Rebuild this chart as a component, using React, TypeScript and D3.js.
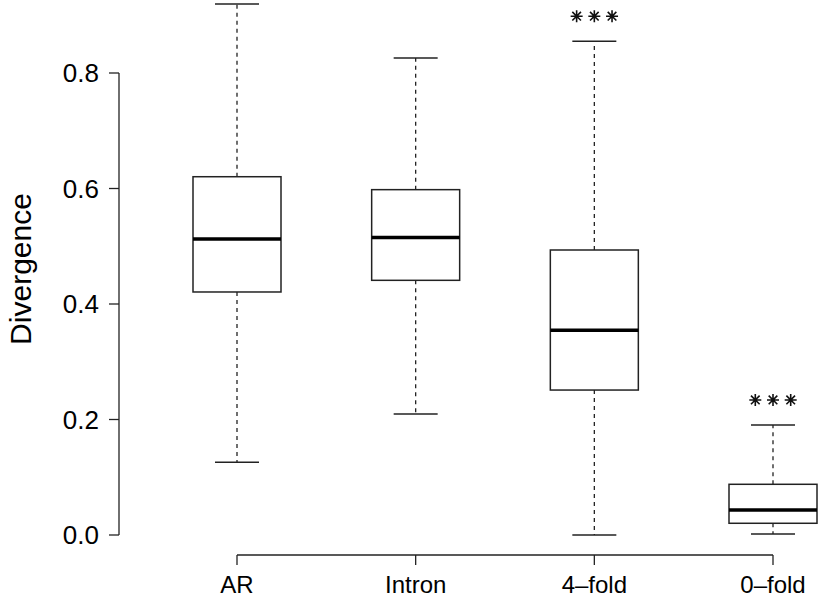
import React, { useEffect, useRef } from 'react';
import * as d3 from 'd3';

const categories = ['AR', 'Intron', '4–fold', '0–fold'];
const lowerWhisker = [0.126, 0.2095, 0.0, 0.0017];
const lowerQuartile = [0.4208, 0.441, 0.251, 0.0203];
const medians = [0.5126, 0.515, 0.3544, 0.0433];
const upperQuartile = [0.6204, 0.598, 0.4935, 0.0878];
const upperWhisker = [0.9195, 0.826, 0.855, 0.1905];
const significance = ['', '', '***', '***'];
const yTicks = [0.0, 0.2, 0.4, 0.6, 0.8];

const App = () => {
  const ref = useRef<SVGSVGElement>(null);

  useEffect(() => {
    const width = 820;
    const height = 600;
    const font = '"Liberation Sans", Arial, Helvetica, sans-serif';

    const svg = d3.select(ref.current).attr('width', width).attr('height', height);
    svg.selectAll('*').remove();

    const y = d3.scaleLinear().domain([0, 0.8]).range([535, 73]);
    const x = d3.scalePoint<string>().domain(categories).range([237, 773]);
    const boxW = 88;
    const capW = 44;

    // y axis
    const gy = svg.append('g').attr('transform', 'translate(119,0)');
    gy.append('line').attr('y1', y(0)).attr('y2', y(0.8)).attr('stroke', '#222').attr('stroke-width', 1.3);
    gy.selectAll('.tick')
      .data(yTicks)
      .enter()
      .append('line')
      .attr('x1', -10)
      .attr('x2', 0)
      .attr('y1', (d) => y(d))
      .attr('y2', (d) => y(d))
      .attr('stroke', '#222')
      .attr('stroke-width', 1.3);
    gy.selectAll('text')
      .data(yTicks)
      .enter()
      .append('text')
      .attr('x', -20)
      .attr('y', (d) => y(d))
      .attr('dy', '0.36em')
      .attr('text-anchor', 'end')
      .style('font-family', font)
      .style('font-size', '26px')
      .text((d) => d3.format('.1f')(d));

    svg.append('text')
      .attr('transform', 'translate(31,269) rotate(-90)')
      .attr('text-anchor', 'middle')
      .style('font-family', font)
      .style('font-size', '30px')
      .text('Divergence');

    // x axis
    const gx = svg.append('g').attr('transform', 'translate(0,555)');
    gx.append('line')
      .attr('x1', x(categories[0])!)
      .attr('x2', x(categories[categories.length - 1])!)
      .attr('stroke', '#222')
      .attr('stroke-width', 1.3);
    gx.selectAll('.tick')
      .data(categories)
      .enter()
      .append('line')
      .attr('x1', (d) => x(d)!)
      .attr('x2', (d) => x(d)!)
      .attr('y1', 0)
      .attr('y2', 10)
      .attr('stroke', '#222')
      .attr('stroke-width', 1.3);
    gx.selectAll('text')
      .data(categories)
      .enter()
      .append('text')
      .attr('x', (d) => x(d)!)
      .attr('y', 38)
      .attr('text-anchor', 'middle')
      .style('font-family', font)
      .style('font-size', '24px')
      .text((d) => d);

    // boxes
    const boxes = svg.selectAll('.box')
      .data(categories)
      .enter()
      .append('g')
      .attr('transform', (d) => `translate(${x(d)},0)`);

    boxes.append('line')
      .attr('y1', (d, i) => y(upperQuartile[i]))
      .attr('y2', (d, i) => y(upperWhisker[i]))
      .attr('stroke', '#222')
      .attr('stroke-width', 1.3)
      .attr('stroke-dasharray', '4,4');
    boxes.append('line')
      .attr('y1', (d, i) => y(lowerQuartile[i]))
      .attr('y2', (d, i) => y(lowerWhisker[i]))
      .attr('stroke', '#222')
      .attr('stroke-width', 1.3)
      .attr('stroke-dasharray', '4,4');
    boxes.append('line')
      .attr('x1', -capW / 2)
      .attr('x2', capW / 2)
      .attr('y1', (d, i) => y(upperWhisker[i]))
      .attr('y2', (d, i) => y(upperWhisker[i]))
      .attr('stroke', '#222')
      .attr('stroke-width', 1.5);
    boxes.append('line')
      .attr('x1', -capW / 2)
      .attr('x2', capW / 2)
      .attr('y1', (d, i) => y(lowerWhisker[i]))
      .attr('y2', (d, i) => y(lowerWhisker[i]))
      .attr('stroke', '#222')
      .attr('stroke-width', 1.5);
    boxes.append('rect')
      .attr('x', -boxW / 2)
      .attr('width', boxW)
      .attr('y', (d, i) => y(upperQuartile[i]))
      .attr('height', (d, i) => y(lowerQuartile[i]) - y(upperQuartile[i]))
      .attr('fill', 'white')
      .attr('stroke', '#222')
      .attr('stroke-width', 1.5);
    boxes.append('line')
      .attr('x1', -boxW / 2)
      .attr('x2', boxW / 2)
      .attr('y1', (d, i) => y(medians[i]))
      .attr('y2', (d, i) => y(medians[i]))
      .attr('stroke', '#000')
      .attr('stroke-width', 3.5);

    // significance stars (pch 8 style)
    const star = (r: number) =>
      `M${-r},0H${r}M0,${-r}V${r}` +
      `M${-r * 0.72},${-r * 0.72}L${r * 0.72},${r * 0.72}M${-r * 0.72},${r * 0.72}L${r * 0.72},${-r * 0.72}`;
    boxes.each(function (d, i) {
      const n = significance[i].length;
      if (!n) return;
      const g = d3.select(this);
      for (let k = 0; k < n; k++) {
        g.append('path')
          .attr('d', star(6))
          .attr('transform', `translate(${(k - (n - 1) / 2) * 17.7},${y(upperWhisker[i]) - 25})`)
          .attr('stroke', '#111')
          .attr('stroke-width', 1.6)
          .attr('fill', 'none');
      }
    });
  }, []);

  return (
    <div style={{ position: 'absolute', left: 0, top: 0 }}>
      <svg ref={ref} style={{ display: 'block', background: 'white' }} />
    </div>
  );
};

export default App;
